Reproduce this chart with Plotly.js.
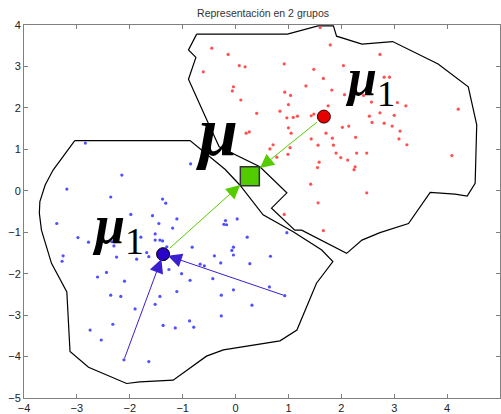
<!DOCTYPE html>
<html>
<head>
<meta charset="utf-8">
<script src="https://cdn.plot.ly/plotly-3.0.1.min.js"></script>
<style>html,body{margin:0;padding:0;background:#fff;}#chart{width:501px;height:414px;}</style>
</head>
<body>
<div id="chart"></div>
<script>
// ---- data ----
var redX = [1.60,-0.45,-0.14,1.79,2.73,-0.61,0.07,0.18,0.92,1.48,2.04,1.66,2.81,2.91,-0.04,-0.06,1.33,1.82,0.93,1.04,2.06,2.42,2.57,0.10,1.00,1.75,3.06,3.22,4.21,0.40,0.84,0.97,1.09,1.17,1.43,1.48,2.53,2.73,3.00,2.58,2.81,2.96,1.00,1.05,0.20,0.26,1.71,2.02,2.14,3.11,1.43,1.83,2.27,3.09,3.24,0.71,0.65,1.03,0.99,1.56,1.85,1.90,2.29,2.48,1.99,2.12,1.58,1.55,2.26,2.24,4.09,0.78,1.42,2.48,1.56,0.92,1.66];
var redY = [3.94,3.44,3.29,3.52,3.29,2.87,3.02,2.99,3.06,2.93,3.02,2.71,2.74,2.74,2.51,2.41,2.53,2.43,2.38,2.30,2.32,2.30,2.14,2.19,2.08,2.05,2.13,2.05,1.97,1.87,1.92,1.76,1.77,1.80,1.81,1.85,1.80,1.88,1.82,1.65,1.63,1.56,1.52,1.39,1.39,1.42,1.39,1.53,1.56,1.44,1.25,1.27,1.29,1.25,1.11,1.11,1.01,1.04,0.88,1.10,1.10,0.91,0.91,0.91,0.80,0.74,0.69,0.56,0.58,0.51,0.85,0.81,0.16,-0.05,-0.29,-0.57,-0.96];
var blueX = [-2.84,-0.85,-2.15,-3.19,-2.36,-1.38,-1.32,-1.98,-1.57,-1.11,-1.45,-1.19,-0.22,-0.17,-0.19,0.03,-3.38,-2.98,-2.78,-2.34,-2.27,-2.30,-1.79,-1.52,-1.52,-1.43,-1.38,-1.30,-0.82,0.22,-3.26,-3.28,-2.25,-1.87,-1.68,-1.64,-1.26,-1.02,-0.67,-0.59,-0.40,-0.28,-0.07,-0.04,-0.04,0.27,0.66,-2.61,-2.44,-2.10,-0.86,-0.43,-1.11,-2.36,-2.17,-1.43,-1.52,-0.27,-0.04,0.64,0.31,-1.90,-0.27,-2.32,-2.75,-2.54,-1.37,-1.14,-0.87,-0.79,-2.11,-1.64,0.97,0.93];
var blueY = [1.15,0.65,0.38,0.04,-0.15,-0.20,-0.30,-0.57,-0.60,-0.68,-0.79,-0.90,-0.81,-0.82,-0.72,-0.68,-0.79,-1.13,-1.24,-1.23,-1.23,-1.33,-1.12,-1.04,-1.19,-1.19,-1.21,-1.35,-1.36,-1.12,-1.57,-1.70,-1.60,-1.65,-1.49,-1.59,-1.90,-2.00,-1.77,-1.81,-1.57,-1.74,-1.44,-1.36,-1.55,-1.76,-1.58,-2.08,-1.97,-2.18,-2.16,-2.12,-2.43,-2.52,-2.55,-2.55,-2.74,-2.52,-2.39,-2.32,-2.76,-2.85,-3.02,-3.22,-3.36,-3.60,-3.25,-3.31,-3.14,-3.29,-4.08,-4.12,-1.01,-2.53];

var redHullX = [-0.735,0.98,1.56,1.85,1.91,2.39,2.97,3.83,4.40,4.56,4.53,4.38,4.15,3.68,3.27,2.73,2.39,2.10,1.25,1.12,0.68,0.97,0.46,-0.31,-0.53,-0.89,-0.75,-0.89,-0.735];
var redHullY = [3.78,3.78,3.98,3.98,3.73,3.54,3.60,3.06,2.51,1.59,0.18,-0.13,-0.08,-0.04,-0.79,-1.01,-1.19,-1.51,-0.95,-0.95,-0.42,-0.05,0.58,1.06,1.67,2.69,3.22,3.40,3.78];
var blueHullX = [-3.04,-0.86,-0.20,0.08,0.52,1.09,1.63,1.84,1.53,1.16,0.84,-0.23,-0.55,-1.18,-1.81,-2.06,-2.78,-3.13,-3.19,-3.48,-3.67,-3.71,-3.70,-3.60,-3.45,-3.04];
var blueHullY = [1.21,1.21,0.52,0.14,-0.58,-0.99,-1.43,-1.71,-2.23,-3.36,-3.62,-3.84,-3.99,-4.57,-4.61,-4.65,-4.26,-3.88,-2.44,-1.75,-0.95,-0.54,-0.26,0.14,0.50,1.21];

var redCentroid = [1.67, 1.79];
var blueCentroid = [-1.37, -1.53];
var globalCentroid = [0.27, 0.35];
// points whose assignment is shown by an arrow to the blue centroid
var blueArrowFromX = [-2.11, 0.93];
var blueArrowFromY = [-4.08, -2.53];

var xTicks = [-4,-3,-2,-1,0,1,2,3,4,5];
var yTicks = [-5,-4,-3,-2,-1,0,1,2,3,4];
var titleText = 'Representación en 2 grupos';

// ---- traces ----
var traces = [
  {x: redHullX, y: redHullY, mode: 'lines', line: {color: '#000', width: 1.2}, hoverinfo: 'skip'},
  {x: blueHullX, y: blueHullY, mode: 'lines', line: {color: '#000', width: 1.2}, hoverinfo: 'skip'},
  {x: redX, y: redY, mode: 'markers', marker: {color: 'rgb(255,80,80)', size: 3.2}},
  {x: blueX, y: blueY, mode: 'markers', marker: {color: 'rgb(80,80,255)', size: 3.2}},
  {x: [redCentroid[0]], y: [redCentroid[1]], mode: 'markers', marker: {color: '#e60000', size: 13, line: {color: '#300', width: 1}}},
  {x: [blueCentroid[0]], y: [blueCentroid[1]], mode: 'markers', marker: {color: '#2a00c8', size: 13, line: {color: '#000', width: 1}}},
  {x: [globalCentroid[0]], y: [globalCentroid[1]], mode: 'markers', marker: {symbol: 'square', color: '#50cc00', size: 19, line: {color: '#333', width: 1.5}}}
];

var ann = [];
function arrow(fx, fy, tx, ty, color, stand, startStand) {
  ann.push({x: tx, y: ty, ax: fx, ay: fy, xref: 'x', yref: 'y', axref: 'x', ayref: 'y',
    text: '', showarrow: true, arrowhead: 2, arrowsize: 2.8, arrowwidth: 1, arrowcolor: color,
    standoff: stand, startstandoff: startStand});
}
arrow(redCentroid[0], redCentroid[1], globalCentroid[0], globalCentroid[1], '#55cc00', 13, 7);
arrow(blueCentroid[0], blueCentroid[1], globalCentroid[0], globalCentroid[1], '#55cc00', 13, 7);
for (var i = 0; i < blueArrowFromX.length; i++) {
  arrow(blueArrowFromX[i], blueArrowFromY[i], blueCentroid[0], blueCentroid[1], '#3a1fd0', 5, 0);
}
function label(x, y, txt, size) {
  ann.push({x: x, y: y, xref: 'x', yref: 'y', text: txt, showarrow: false,
    font: {family: 'Liberation Serif, Times New Roman, serif', size: size, color: '#000', style: 'italic'}});
}
var sub1 = '<sub><span style="font-style:normal;font-weight:normal">1</span></sub>';
label(2.54, 2.64, '<b>μ</b>' + sub1, 52);
label(-2.22, -0.90, '<b>μ</b>' + sub1, 54);
label(-0.35, 1.42, '<b>μ</b>', 70);

var axisCommon = {showgrid: false, zeroline: false, showline: true, linecolor: '#808080', linewidth: 1,
  mirror: 'ticks', ticks: 'inside', ticklen: 4, tickcolor: '#808080',
  tickfont: {family: 'Liberation Sans, Arial, sans-serif', size: 11, color: '#222'}};

var layout = {
  width: 501, height: 414,
  margin: {l: 24, r: 1, t: 25, b: 16, pad: 0},
  paper_bgcolor: '#fff', plot_bgcolor: '#fff',
  showlegend: false,
  title: {text: titleText, font: {family: 'Liberation Sans, Arial, sans-serif', size: 10.5, color: '#333'},
          x: 0.525, xanchor: 'center', y: 1 - 13/414, yanchor: 'middle', yref: 'container'},
  xaxis: Object.assign({}, axisCommon, {range: [-4, 5], tickvals: xTicks, ticklabelstandoff: 0}),
  yaxis: Object.assign({}, axisCommon, {range: [-5, 4], tickvals: yTicks}),
  annotations: ann
};
Plotly.newPlot('chart', traces, layout, {staticPlot: true});
</script>
</body>
</html>
